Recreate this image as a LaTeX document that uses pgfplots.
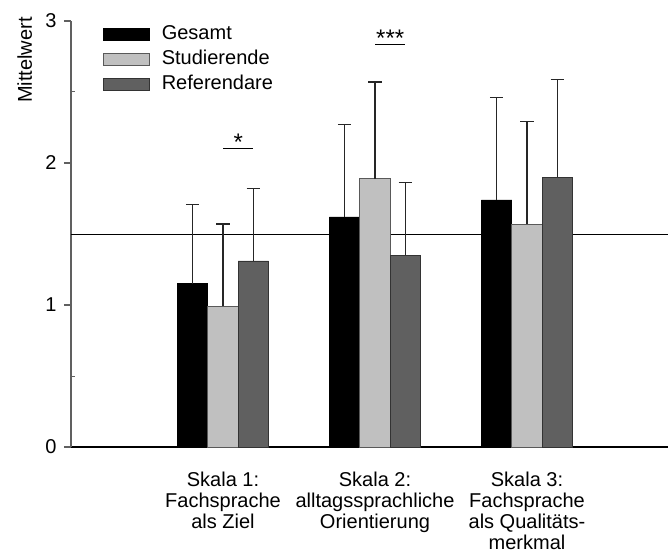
\documentclass[border=0pt]{standalone}
\usepackage{fontspec}
\setmainfont{Liberation Sans}
\usepackage{pgfplots}
\pgfplotsset{compat=1.18}
\usepackage{pgfplotstable}
\definecolor{cLight}{HTML}{C0C0C0}
\definecolor{cDark}{HTML}{606060}
\definecolor{cAxis}{HTML}{606060}
\pgfplotstableread{
x y e
0.8 1.15 0.56
1.8 1.62 0.65
2.8 1.74 0.72
}\gesamt
\pgfplotstableread{
x y e
1.0 0.99 0.58
2.0 1.89 0.68
3.0 1.57 0.72
}\studierende
\pgfplotstableread{
x y e
1.2 1.31 0.51
2.2 1.35 0.51
3.2 1.90 0.69
}\referendare
\begin{document}
\begin{tikzpicture}[font=\fontsize{20bp}{21.7bp}\selectfont]
\begin{axis}[
  scale only axis,
  x=152bp, y=142bp,
  xmin=0, xmax=3.928, ymin=0, ymax=3,
  axis x line*=bottom, axis y line*=left,
  x axis line style={black, line width=1.2pt, -},
  y axis line style={cAxis, line width=1.5pt, -},
  xtick={1,2,3},
  xticklabels={{Skala 1:\\Fachsprache\\als Ziel},{Skala 2:\\alltagssprachliche\\Orientierung},{Skala 3:\\Fachsprache\\als Qualitäts-\\merkmal}},
  x tick style={draw=none},
  xticklabel style={align=center, anchor=north, yshift=-14bp, font=\fontsize{20bp}{21.3bp}\selectfont},
  ytick={0,1,2,3},
  y tick style={cAxis, line width=1.2pt},
  tick align=outside,
  major tick length=7bp,
  yticklabel style={font=\fontsize{20bp}{22bp}\selectfont, xshift=-4bp},
  extra y ticks={0.5,1.5,2.5},
  extra y tick labels={},
  extra y tick style={tick align=inside, major tick length=4bp, y tick style={cAxis, line width=1pt}},
  /pgf/number format/assume math mode=true,
  ylabel={Mittelwert},
  every axis y label/.style={at={(axis cs:-0.2566,3.028)}, rotate=90, anchor=base east, inner sep=0pt, font=\fontsize{20bp}{22bp}\selectfont},
  clip=false,
  legend style={draw=none, fill=none, at={(axis cs:0.2105,2.972)}, anchor=north west, font=\fontsize{20bp}{22bp}\selectfont, row sep=6bp, inner sep=0pt, outer sep=0pt,
    nodes={inner sep=0pt, outer sep=0pt, text height=15bp, text depth=4bp}, cells={anchor=west}},
  legend cell align=left,
  legend image code/.code={\draw[#1] (0bp,-5.5bp) rectangle (46bp,6.5bp); \path (58bp,0bp);},
  error bars/y dir=plus, error bars/y explicit,
  error bars/error bar style={line width=1.2pt, black!85},
  error bars/error mark options={rotate=90, mark size=6.8bp, line width=1.2pt, black!85},
]
\addplot[black, line width=0.9pt, forget plot] coordinates {(0,1.5) (3.928,1.5)};
\addplot[ybar, bar width=30.5bp, bar shift=0bp, fill=black, draw=black, line width=0.8pt]
  table[x=x, y=y, y error=e] {\gesamt};
\addlegendentry{Gesamt}
\addplot[ybar, bar width=30.5bp, bar shift=0bp, fill=cLight, draw=black!65, line width=0.8pt]
  table[x=x, y=y, y error=e] {\studierende};
\addlegendentry{Studierende}
\addplot[ybar, bar width=30.5bp, bar shift=0bp, fill=cDark, draw=black!80, line width=0.8pt]
  table[x=x, y=y, y error=e] {\referendare};
\addlegendentry{Referendare}
\draw[black, line width=0.9pt] (axis cs:1.0,2.10) -- (axis cs:1.2,2.10);
\node[anchor=base, inner sep=0pt, font=\fontsize{24bp}{26bp}\selectfont] at (axis cs:1.1,2.085) {*};
\draw[black, line width=0.9pt] (axis cs:2.0,2.835) -- (axis cs:2.2,2.835);
\node[anchor=base, inner sep=0pt, font=\fontsize{24bp}{26bp}\selectfont] at (axis cs:2.1,2.82) {***};
\coordinate (O) at (axis cs:0,0);
\end{axis}
\pgfresetboundingbox
\path[use as bounding box] ([shift={(-71bp,-106bp)}]O) rectangle ([shift={(597bp,447bp)}]O);
\end{tikzpicture}
\end{document}
